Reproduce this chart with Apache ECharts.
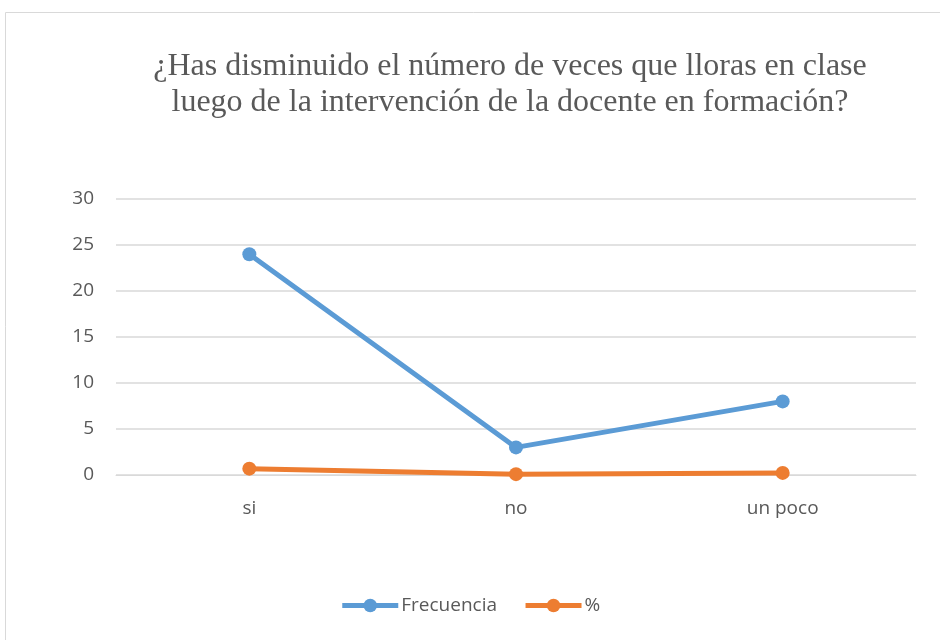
<!DOCTYPE html>
<html>
<head>
<meta charset="utf-8">
<script src="https://cdn.jsdelivr.net/npm/echarts@6/dist/echarts.min.js"></script>
<style>
  html, body { margin: 0; padding: 0; background: #fff; }
  #chart { width: 940px; height: 640px; }
</style>
</head>
<body>
<div id="chart"></div>
<script>
const categories = ['si', 'no', 'un poco']
const frecuencia = [24, 3, 8]
const porcentaje = [0.69, 0.09, 0.23]

const chart = echarts.init(document.getElementById('chart'))

const option = {
  animation: false,
  title: {
    text: '¿Has disminuido el número de veces que lloras en clase\nluego de la intervención de la docente en formación?',
    left: 505,
    top: 44,
    textAlign: 'center',
    textStyle: {
      fontFamily: 'Liberation Serif',
      fontSize: 32,
      fontWeight: 'normal',
      color: '#595959',
      lineHeight: 36
    }
  },
  graphic: [
    {
      type: 'rect',
      shape: { x: 5.5, y: 12.5, width: 1000, height: 1000 },
      style: { fill: 'none', stroke: '#d9d9d9', lineWidth: 1 },
      silent: true
    }
  ],
  legend: {
    bottom: 20,
    left: 'center',
    itemWidth: 56,
    itemHeight: 17,
    itemGap: 26,
    lineStyle: { width: 5 },
    textStyle: { fontFamily: 'Open Sans', fontSize: 19, color: '#595959', padding: [0, 0, 0, -2] },
    data: ['Frecuencia', '%']
  },
  grid: {
    left: 116,
    right: 24,
    top: 199,
    height: 276,
    containLabel: false
  },
  xAxis: {
    type: 'category',
    data: categories,
    axisLine: { show: true, lineStyle: { color: '#d9d9d9' } },
    axisTick: { show: false },
    axisLabel: { fontFamily: 'Open Sans', fontSize: 19, color: '#595959', margin: 24 }
  },
  yAxis: {
    type: 'value',
    min: 0,
    max: 30,
    interval: 5,
    axisLine: { show: false },
    axisTick: { show: false },
    axisLabel: { fontFamily: 'Open Sans', fontSize: 19, color: '#595959', margin: 22 },
    splitLine: { lineStyle: { color: '#d9d9d9', width: 1.5 } }
  },
  series: [
    {
      name: 'Frecuencia',
      type: 'line',
      data: frecuencia,
      symbol: 'circle',
      symbolSize: 14,
      lineStyle: { width: 5, color: '#5b9bd5' },
      itemStyle: { color: '#5b9bd5' }
    },
    {
      name: '%',
      type: 'line',
      data: porcentaje,
      symbol: 'circle',
      symbolSize: 14,
      lineStyle: { width: 5, color: '#ed7d31' },
      itemStyle: { color: '#ed7d31' }
    }
  ]
}

chart.setOption(option)
</script>
</body>
</html>
